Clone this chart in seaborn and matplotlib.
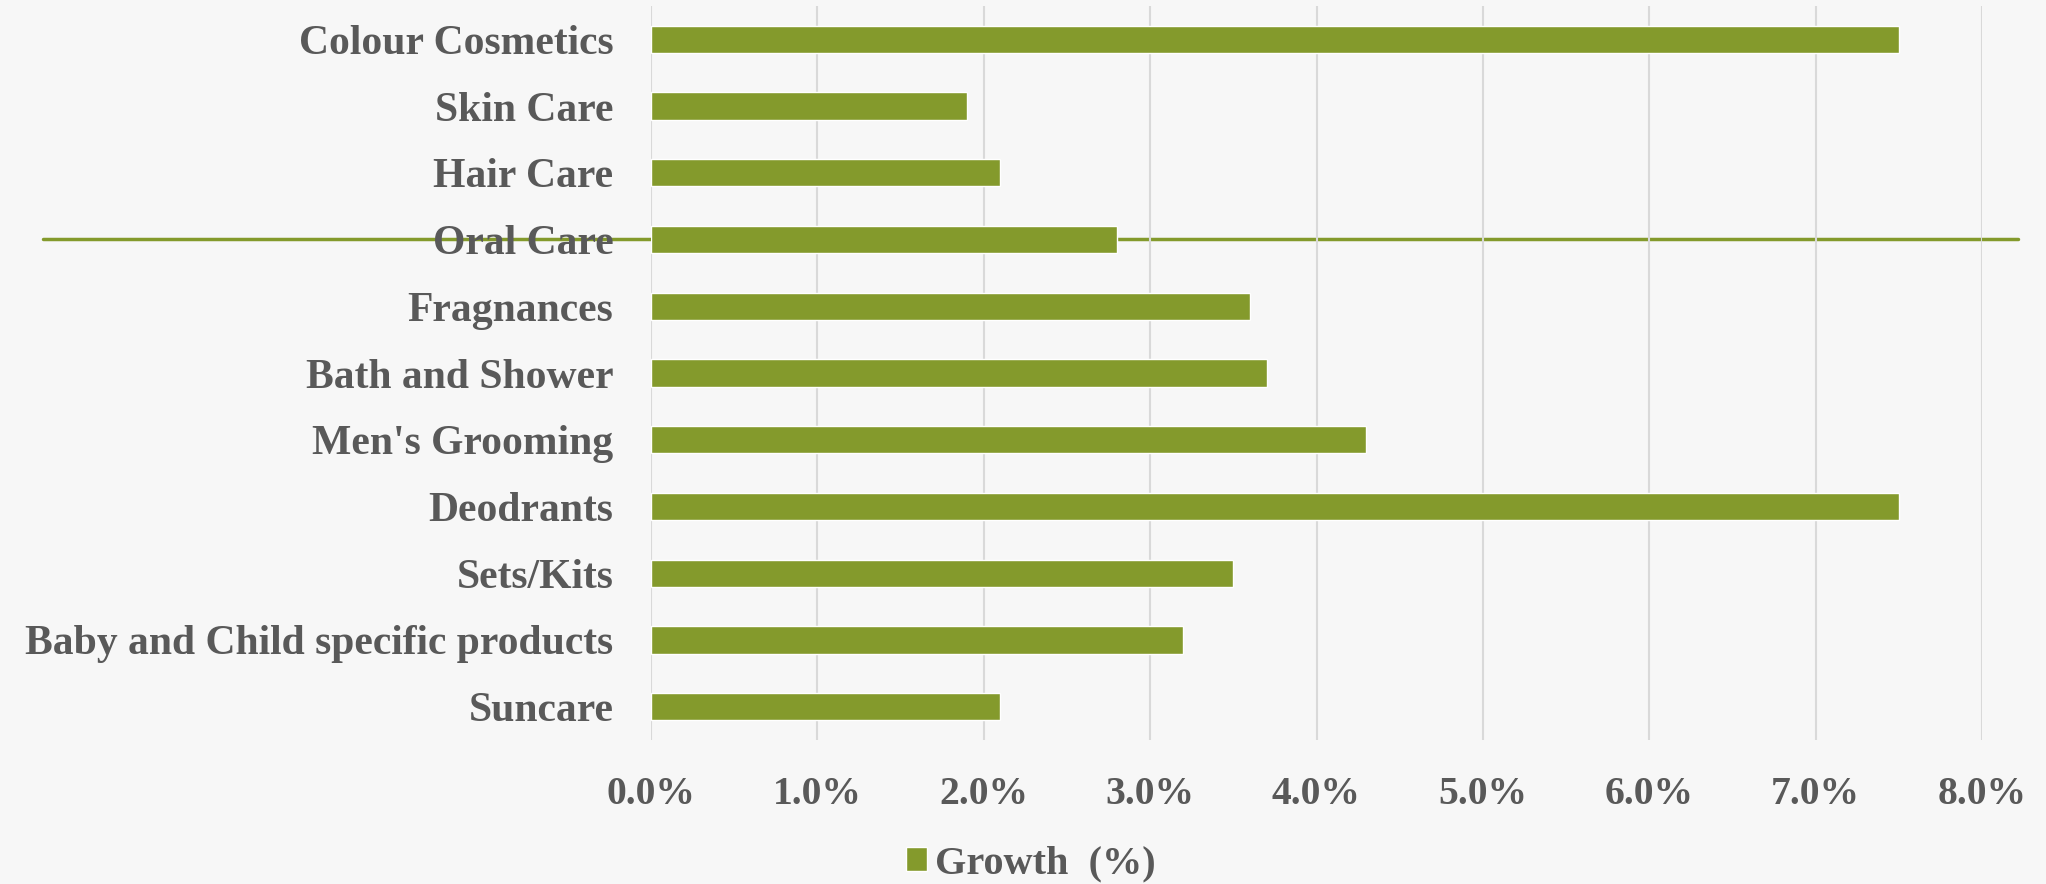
import matplotlib
matplotlib.use("Agg")
import matplotlib.pyplot as plt
import seaborn as sns
import pandas as pd
from matplotlib.lines import Line2D
from matplotlib.ticker import FuncFormatter, MultipleLocator

categories = ["Colour Cosmetics", "Skin Care", "Hair Care", "Oral Care", "Fragnances",
              "Bath and Shower", "Men's Grooming", "Deodrants", "Sets/Kits",
              "Baby and Child specific products", "Suncare"]
growth = [7.5, 1.9, 2.1, 2.8, 3.6, 3.7, 4.3, 7.5, 3.5, 3.2, 2.1]
series_label = "Growth  (%)"

BAR = "#849A2C"
TXT = "#595959"
BG = "#F7F7F7"
GRID = "#D9D9D9"

sns.set_theme(style="white")
plt.rcParams['font.family'] = ['Liberation Serif', 'DejaVu Serif']
plt.rcParams['font.weight'] = 'bold'

df = pd.DataFrame({"category": categories, "growth": growth})

fig = plt.figure(figsize=(20.46, 8.84), dpi=100, facecolor=BG)
ax = fig.add_axes([651/2046, 1-740/884, (1982-651)/2046, (740-6)/884])
ax.set_facecolor("none")

# decorative template line behind the chart
fig.add_artist(Line2D([43/2046, 2018/2046], [1-239/884, 1-239/884],
                      transform=fig.transFigure, color=BAR, lw=2.5, zorder=0))

sns.barplot(data=df, x="growth", y="category", orient="h", color=BAR,
            width=0.41, saturation=1, ax=ax, label=series_label, zorder=3)

ax.set_xlim(0, 8)
ax.set_ylim(10.5, -0.5)
ax.xaxis.set_major_locator(MultipleLocator(1))
ax.xaxis.set_major_formatter(FuncFormatter(lambda v, p: f"{v:.1f}%"))
ax.grid(axis="x", color=GRID, lw=1.5, zorder=1)
ax.set_axisbelow(True)
for s in ax.spines.values():
    s.set_visible(False)
ax.set_xlabel("")
ax.set_ylabel("")
ax.tick_params(axis="x", length=0, pad=26, labelsize=28.5, labelcolor=TXT)
ax.tick_params(axis="y", length=0, pad=27, labelsize=30, labelcolor=TXT)
for lab in ax.get_xticklabels() + ax.get_yticklabels():
    lab.set_fontweight("bold")

if ax.get_legend():
    ax.get_legend().remove()
h, l = ax.get_legend_handles_labels()
fig.legend(h, l, loc="center", bbox_to_anchor=(0.504, 1-864/884), frameon=False,
           prop={"size": 29, "weight": "bold"}, labelcolor=TXT,
           handlelength=0.52, handleheight=0.52, handletextpad=0.2)

fig.savefig("out.png", dpi=100, facecolor=BG)
